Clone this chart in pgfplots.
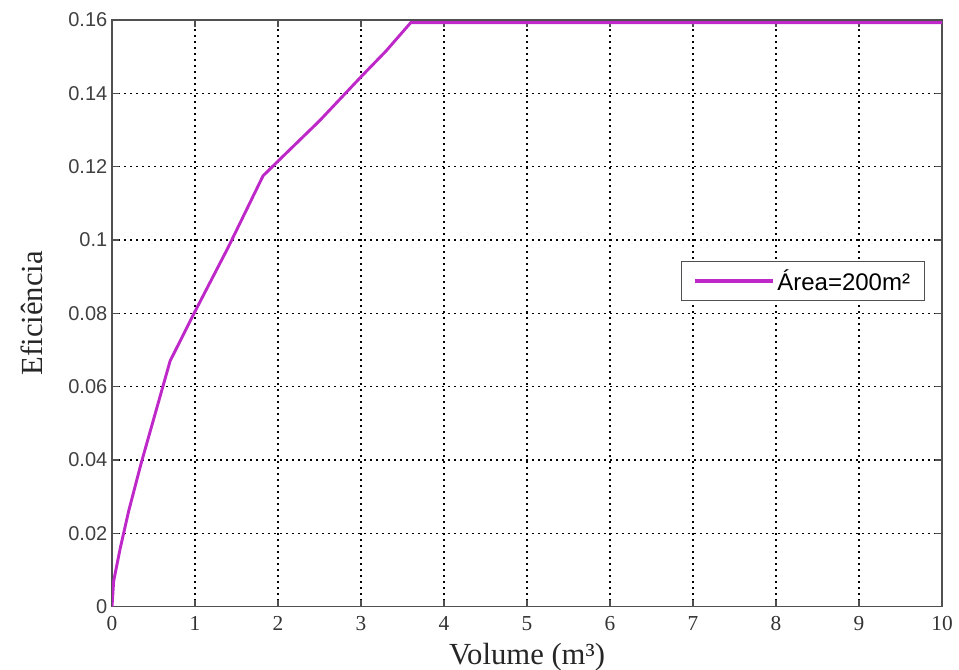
\documentclass[border=0pt]{standalone}
\usepackage{fontspec}
\setmainfont{Liberation Serif}
\newfontfamily\arialfont{Liberation Sans}
\usepackage{pgfplots}
\pgfplotsset{compat=1.18}
\definecolor{curve}{RGB}{190,40,200}
\definecolor{axgray}{RGB}{80,80,80}
\begin{document}
\begin{tikzpicture}
\begin{axis}[
    scale only axis,
    width=622.5pt, height=440pt,
    xmin=0, xmax=10, ymin=0, ymax=0.16,
    xtick={0,1,...,10},
    ytick={0,0.02,0.04,0.06,0.08,0.1,0.12,0.14,0.16},
    scaled y ticks=false,
    yticklabel style={/pgf/number format/fixed,/pgf/number format/precision=2},
    /pgf/number format/assume math mode=true,
    tick align=inside,
    major tick length=5pt,
    axis line style={axgray, line width=1pt},
    every tick/.style={axgray, line width=0.8pt},
    grid=major,
    major grid style={black, line width=1pt, dash pattern=on 1.5pt off 3pt},
    xticklabel style={font=\fontsize{16}{18}\selectfont, text=black!80, yshift=-4pt},
    yticklabel style={font=\arialfont\fontsize{15}{17}\selectfont, text=black!75},
    xlabel={Volume (m³)},
    ylabel={Eficiência},
    label style={font=\fontsize{23}{25}\selectfont, text=black!85},
    xlabel style={at={(rel axis cs:0.5,0)}, anchor=north, yshift=-24pt},
    ylabel style={at={(rel axis cs:0,0.5)}, anchor=south, yshift=48pt},
    legend style={at={(rel axis cs:0.98,0.555)}, anchor=east,
      draw=axgray, line width=1pt, fill=white,
      font=\arialfont\fontsize{18}{20}\selectfont, inner xsep=9pt, inner ysep=4pt},
    legend image code/.code={\draw[#1, line width=3pt] (0pt,0pt) -- (58pt,0pt);},
]
\addplot[curve, line width=2.2pt] coordinates {
  (0,0) (0.02,0.007) (0.1,0.016) (0.2,0.026) (0.35,0.039) (0.5,0.051)
  (0.7,0.067) (1,0.0805) (1.4,0.098) (1.82,0.1175) (2,0.1215)
  (2.5,0.1325) (3,0.1445) (3.3,0.1515) (3.6,0.1593) (10,0.1593)};
\addlegendentry{Área=200m²}
\coordinate (sw) at (rel axis cs:0,0);
\coordinate (ne) at (rel axis cs:1,1);
\end{axis}
\pgfresetboundingbox
\path ([xshift=-84pt,yshift=-47.25pt]sw) rectangle ([xshift=12.75pt,yshift=15pt]ne);
\end{tikzpicture}
\end{document}
